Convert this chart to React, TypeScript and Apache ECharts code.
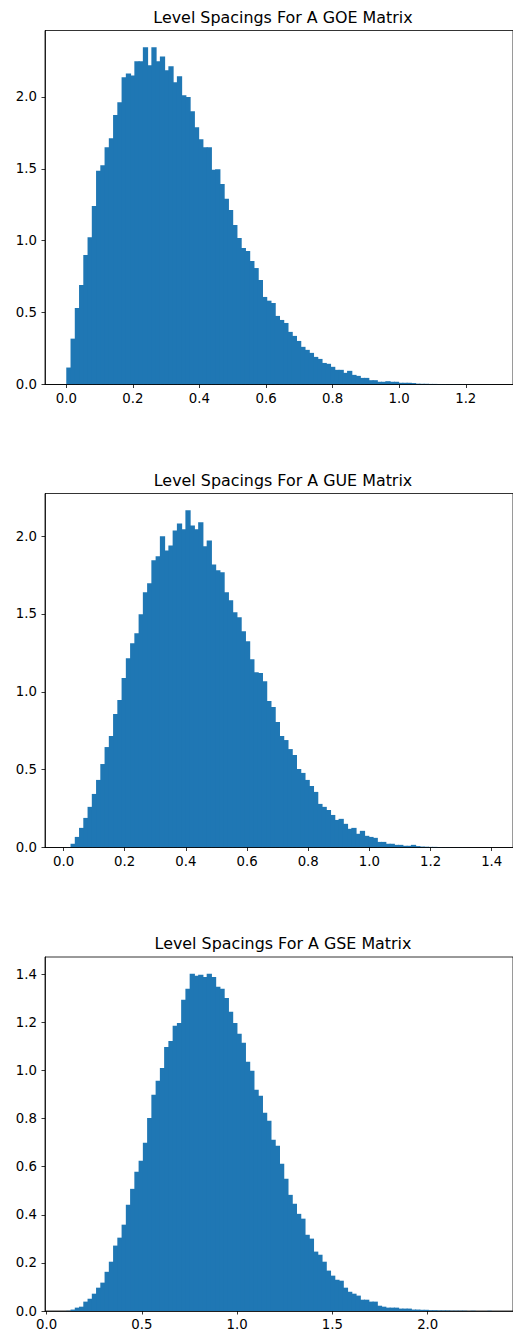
import React, { useEffect, useRef } from "react";
import * as echarts from "echarts";

// Normalised level-spacing histograms, 100 bins each, over [start, end].
const goeRange = [0.0, 1.278];
const goeDensity = [
  0.118, 0.319, 0.532, 0.692, 0.9, 1.025, 1.241, 1.486, 1.525, 1.65,
  1.713, 1.875, 1.963, 2.137, 2.164, 2.15, 2.248, 2.248, 2.345, 2.22,
  2.345, 2.248, 2.282, 2.185, 2.213, 2.102, 2.144, 2.012, 2.0, 1.9,
  1.789, 1.706, 1.65, 1.65, 1.493, 1.498, 1.394, 1.292, 1.213, 1.109,
  1.019, 0.949, 0.928, 0.859, 0.81, 0.727, 0.609, 0.583, 0.567, 0.477,
  0.449, 0.428, 0.366, 0.338, 0.303, 0.262, 0.241, 0.22, 0.192, 0.178,
  0.15, 0.144, 0.123, 0.102, 0.102, 0.081, 0.095, 0.067, 0.06, 0.046,
  0.046, 0.03, 0.03, 0.019, 0.019, 0.023, 0.019, 0.019, 0.012, 0.012,
  0.012, 0.01, 0.006, 0.005, 0.005, 0.004, 0.004, 0.003, 0.003, 0.002,
  0.002, 0.002, 0.001, 0.001, 0.001, 0.001, 0.001, 0.0, 0.0, 0.001,
];

const gueRange = [0.009, 1.4];
const gueDensity = [
  0.002, 0.024, 0.068, 0.126, 0.19, 0.261, 0.344, 0.434, 0.536, 0.645,
  0.716, 0.857, 0.947, 1.088, 1.216, 1.312, 1.376, 1.498, 1.639, 1.697,
  1.844, 1.87, 1.998, 1.908, 1.94, 2.036, 2.081, 2.043, 2.165, 2.068,
  2.043, 2.088, 1.934, 1.972, 1.818, 1.78, 1.767, 1.639, 1.588, 1.511,
  1.479, 1.389, 1.325, 1.209, 1.126, 1.12, 1.068, 0.94, 0.902, 0.806,
  0.716, 0.69, 0.632, 0.594, 0.504, 0.479, 0.434, 0.395, 0.357, 0.28,
  0.261, 0.241, 0.209, 0.177, 0.184, 0.152, 0.12, 0.126, 0.088, 0.107,
  0.075, 0.068, 0.062, 0.036, 0.036, 0.024, 0.024, 0.017, 0.017, 0.011,
  0.011, 0.017, 0.009, 0.006, 0.005, 0.004, 0.004, 0.003, 0.002, 0.002,
  0.001, 0.001, 0.001, 0.001, 0.0, 0.001, 0.0, 0.0, 0.0, 0.001,
];

const gseRange = [0.103, 2.336];
const gseDensity = [
  0.001, 0.006, 0.014, 0.018, 0.039, 0.051, 0.072, 0.097, 0.118, 0.163,
  0.205, 0.272, 0.305, 0.359, 0.442, 0.508, 0.579, 0.625, 0.7, 0.803,
  0.899, 0.957, 1.011, 1.098, 1.123, 1.186, 1.198, 1.294, 1.34, 1.402,
  1.394, 1.398, 1.389, 1.402, 1.389, 1.348, 1.34, 1.302, 1.244, 1.198,
  1.153, 1.115, 1.036, 0.999, 0.92, 0.895, 0.824, 0.791, 0.712, 0.687,
  0.612, 0.55, 0.483, 0.446, 0.404, 0.384, 0.317, 0.301, 0.247, 0.234,
  0.205, 0.168, 0.147, 0.13, 0.126, 0.097, 0.08, 0.072, 0.064, 0.047,
  0.047, 0.039, 0.039, 0.022, 0.018, 0.014, 0.014, 0.014, 0.01, 0.01,
  0.01, 0.006, 0.006, 0.005, 0.005, 0.003, 0.003, 0.002, 0.002, 0.002,
  0.001, 0.001, 0.001, 0.001, 0.0, 0.001, 0.0, 0.0, 0.0, 0.001,
];

const goeXTicks = [0, 0.2, 0.4, 0.6, 0.8, 1.0, 1.2];
const gueXTicks = [0, 0.2, 0.4, 0.6, 0.8, 1.0, 1.2, 1.4];
const gseXTicks = [0, 0.5, 1.0, 1.5, 2.0];
const goeYTicks = [0, 0.5, 1.0, 1.5, 2.0];
const gueYTicks = [0, 0.5, 1.0, 1.5, 2.0];
const gseYTicks = [0, 0.2, 0.4, 0.6, 0.8, 1.0, 1.2, 1.4];

const titles = [
  "Level Spacings For A GOE Matrix",
  "Level Spacings For A GUE Matrix",
  "Level Spacings For A GSE Matrix",
];

const BAR_COLOR = "#1f77b4";
const FONT = "DejaVu Sans";
const PLOT_LEFT = 45;
const PLOT_WIDTH = 476;
const PLOT_HEIGHT = 354;
const PLOT_TOPS = [30.5, 493.5, 957];

function buildOption() {
  const panels = [
    { range: goeRange, density: goeDensity, xTicks: goeXTicks, yTicks: goeYTicks },
    { range: gueRange, density: gueDensity, xTicks: gueXTicks, yTicks: gueYTicks },
    { range: gseRange, density: gseDensity, xTicks: gseXTicks, yTicks: gseYTicks },
  ];

  const grid: any[] = [];
  const xAxis: any[] = [];
  const yAxis: any[] = [];
  const series: any[] = [];
  const graphic: any[] = [];

  const axisLine = { show: true, onZero: false, lineStyle: { color: "#000", width: 0.8 } };
  const tickStyle = { color: "#000", width: 0.8 };
  const labelStyle = { fontFamily: FONT, fontSize: 13.3, color: "#000" };

  panels.forEach((p, k) => {
    const [start, end] = p.range;
    const span = end - start;
    const binWidth = span / p.density.length;
    const yMax = 1.05 * Math.max(...p.density);

    grid.push({
      left: PLOT_LEFT,
      top: PLOT_TOPS[k],
      width: PLOT_WIDTH,
      height: PLOT_HEIGHT,
      show: true,
      borderColor: "#000",
      borderWidth: 0.8,
      backgroundColor: "transparent",
      containLabel: false,
    });

    xAxis.push({
      type: "value",
      gridIndex: k,
      min: start - 0.05 * span,
      max: end + 0.05 * span,
      z: 5,
      axisLine,
      axisTick: { show: true, length: 3.5, customValues: p.xTicks, lineStyle: tickStyle },
      axisLabel: {
        ...labelStyle,
        margin: 7,
        customValues: p.xTicks,
        formatter: (v: number) => v.toFixed(1),
      },
      splitLine: { show: false },
    });

    yAxis.push({
      type: "value",
      gridIndex: k,
      min: 0,
      max: yMax,
      z: 5,
      axisLine,
      axisTick: { show: true, length: 3.5, customValues: p.yTicks, lineStyle: tickStyle },
      axisLabel: {
        ...labelStyle,
        margin: 8,
        customValues: p.yTicks,
        formatter: (v: number) => v.toFixed(1),
      },
      splitLine: { show: false },
    });

    series.push({
      type: "custom",
      xAxisIndex: k,
      yAxisIndex: k,
      encode: { x: [0, 1], y: 2 },
      data: p.density.map((h, i) => [start + i * binWidth, start + (i + 1) * binWidth, h]),
      renderItem: (params: any, api: any) => {
        const topLeft = api.coord([api.value(0), api.value(2)]);
        const bottomRight = api.coord([api.value(1), 0]);
        const last = params.dataIndex === params.dataInsideLength - 1;
        return {
          type: "rect",
          shape: {
            x: topLeft[0],
            y: topLeft[1],
            // overlap the next bin by a pixel so neighbouring bars join without seams
            width: bottomRight[0] - topLeft[0] + (last ? 0 : 1),
            height: bottomRight[1] - topLeft[1],
          },
          style: { fill: BAR_COLOR },
        };
      },
    });

    graphic.push({
      type: "text",
      x: PLOT_LEFT + PLOT_WIDTH / 2,
      y: PLOT_TOPS[k] - 13.5,
      style: {
        text: titles[k],
        fontFamily: FONT,
        fontSize: 15.9,
        fill: "#000",
        align: "center",
        verticalAlign: "middle",
      },
    });
  });

  return { animation: false, backgroundColor: "#fff", grid, xAxis, yAxis, series, graphic };
}

export default function App() {
  const ref = useRef<HTMLDivElement>(null);

  useEffect(() => {
    document.body.style.margin = "0";
    if (!ref.current) return;
    const chart = echarts.init(ref.current, undefined, { renderer: "svg" });
    chart.setOption(buildOption());
    return () => chart.dispose();
  }, []);

  return (
    <div
      ref={ref}
      style={{ position: "absolute", left: 0, top: 0, width: 513, height: 1336, overflow: "hidden" }}
    />
  );
}
